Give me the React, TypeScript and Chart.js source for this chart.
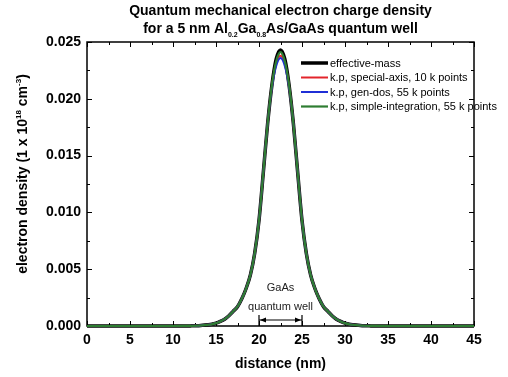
import React, { useEffect, useRef } from 'react';
import { Chart, registerables } from 'chart.js';

Chart.register(...registerables);

// ---------------- data ----------------
const distanceNm = [
  0, 5, 10, 12, 13, 14, 14.5, 15, 15.5, 16, 16.5, 17, 17.5, 18, 18.5, 19, 19.5, 20, 20.5, 21, 21.5,
  22, 22.5, 23, 23.5, 24, 24.5, 25, 25.5, 26, 26.5, 27, 27.5, 28, 28.5, 29, 29.5, 30, 30.5, 31, 32, 33,
  35, 40, 45,
];

const effectiveMass = [
  0, 0, 0, 0.00001, 0.00003, 0.0001, 0.00015, 0.00025, 0.0004, 0.0006, 0.0009, 0.0013, 0.0017, 0.0024,
  0.0033, 0.0045, 0.0064, 0.0093, 0.0135, 0.0178, 0.0212, 0.0235, 0.0243, 0.0235, 0.0212, 0.0178,
  0.0135, 0.0093, 0.0064, 0.0045, 0.0033, 0.0024, 0.0017, 0.0013, 0.0009, 0.0006, 0.0004, 0.00025,
  0.00015, 0.0001, 0.00003, 0.00001, 0, 0, 0,
];

const kpSpecialAxis = [
  0, 0, 0, 0.00001, 0.00003, 0.0001, 0.00015, 0.00025, 0.0004, 0.0006, 0.0009, 0.0013, 0.0017, 0.0024,
  0.0033, 0.0045, 0.0064, 0.0093, 0.0135, 0.0178, 0.0211, 0.0231, 0.0238, 0.0231, 0.0211, 0.0178,
  0.0135, 0.0093, 0.0064, 0.0045, 0.0033, 0.0024, 0.0017, 0.0013, 0.0009, 0.0006, 0.0004, 0.00025,
  0.00015, 0.0001, 0.00003, 0.00001, 0, 0, 0,
];

const kpGenDos = [
  0, 0, 0, 0.00001, 0.00003, 0.0001, 0.00015, 0.00025, 0.0004, 0.0006, 0.0009, 0.0013, 0.0017, 0.0024,
  0.0033, 0.0045, 0.0064, 0.0093, 0.0135, 0.0178, 0.021, 0.0229, 0.0236, 0.0229, 0.021, 0.0178,
  0.0135, 0.0093, 0.0064, 0.0045, 0.0033, 0.0024, 0.0017, 0.0013, 0.0009, 0.0006, 0.0004, 0.00025,
  0.00015, 0.0001, 0.00003, 0.00001, 0, 0, 0,
];

const kpSimpleIntegration = [
  0, 0, 0, 0.00001, 0.00003, 0.0001, 0.00015, 0.00025, 0.0004, 0.0006, 0.0009, 0.0013, 0.0017, 0.0024,
  0.0033, 0.0045, 0.0064, 0.0093, 0.0135, 0.0178, 0.0212, 0.0233, 0.0241, 0.0233, 0.0212, 0.0178,
  0.0135, 0.0093, 0.0064, 0.0045, 0.0033, 0.0024, 0.0017, 0.0013, 0.0009, 0.0006, 0.0004, 0.00025,
  0.00015, 0.0001, 0.00003, 0.00001, 0, 0, 0,
];

const seriesLabels = [
  'effective-mass',
  'k.p, special-axis, 10 k points',
  'k.p, gen-dos, 55 k points',
  'k.p, simple-integration, 55 k points',
];
const seriesColors = ['#000000', '#e3242b', '#1f2fd6', '#2e7d32'];
const seriesWidths = [3.5, 2, 2, 2.2];

const xRange = [0, 45];
const yRange = [0, 0.025];
const xStep = 5;
const yStep = 0.005;

const wellRange = [20, 25];
const wellLabel = ['GaAs', 'quantum well'];

const FONT = '"Liberation Sans", Arial, Helvetica, sans-serif';

type Part = { t: string; mode?: 'sub' | 'sup' };

function drawRich(ctx: CanvasRenderingContext2D, parts: Part[], cx: number, baseline: number, size: number, small: number) {
  const main = `bold ${size}px ${FONT}`;
  const sm = `bold ${small}px ${FONT}`;
  let total = 0;
  const widths = parts.map((p) => {
    ctx.font = p.mode ? sm : main;
    const w = ctx.measureText(p.t).width;
    total += w;
    return w;
  });
  let x = cx - total / 2;
  ctx.textAlign = 'left';
  ctx.textBaseline = 'alphabetic';
  parts.forEach((p, i) => {
    ctx.font = p.mode ? sm : main;
    const dy = p.mode === 'sub' ? 4 : p.mode === 'sup' ? -6 : 0;
    ctx.fillText(p.t, x, baseline + dy);
    x += widths[i];
  });
}

const decorPlugin = {
  id: 'decor',
  beforeDatasetsDraw(chart: any) {
    const { ctx, chartArea } = chart;
    const { left, right, top, bottom } = chartArea;
    const xs = chart.scales.x;
    const ys = chart.scales.y;
    ctx.save();
    ctx.strokeStyle = '#000';
    ctx.lineWidth = 1.5;
    ctx.strokeRect(left, top, right - left, bottom - top);
    ctx.lineWidth = 1;
    const seg = (x1: number, y1: number, x2: number, y2: number) => {
      ctx.beginPath();
      ctx.moveTo(x1, y1);
      ctx.lineTo(x2, y2);
      ctx.stroke();
    };
    for (let v = xRange[0]; v <= xRange[1] + 1e-9; v += xStep / 2) {
      const major = Math.abs(v / xStep - Math.round(v / xStep)) < 1e-6;
      const len = major ? 5 : 3;
      const px = Math.round(xs.getPixelForValue(v)) + 0.5;
      seg(px, bottom, px, bottom - len);
      seg(px, top, px, top + len);
    }
    for (let v = yRange[0]; v <= yRange[1] + 1e-12; v += yStep / 2) {
      const major = Math.abs(v / yStep - Math.round(v / yStep)) < 1e-6;
      const len = major ? 5 : 3;
      const py = Math.round(ys.getPixelForValue(v)) + 0.5;
      seg(left, py, left + len, py);
      seg(right, py, right - len, py);
    }
    ctx.restore();
  },
  afterDraw(chart: any) {
    const { ctx, chartArea } = chart;
    const { left, right, top, bottom } = chartArea;
    const xs = chart.scales.x;
    ctx.save();
    ctx.fillStyle = '#000';
    // title
    drawRich(ctx, [{ t: 'Quantum mechanical electron charge density' }], (left + right) / 2, 15, 14, 7);
    drawRich(
      ctx,
      [
        { t: 'for a 5 nm Al' },
        { t: '0.2', mode: 'sub' },
        { t: 'Ga' },
        { t: '0.8', mode: 'sub' },
        { t: 'As/GaAs quantum well' },
      ],
      (left + right) / 2,
      33,
      14,
      7
    );
    // y title
    ctx.save();
    ctx.translate(27, 174);
    ctx.rotate(-Math.PI / 2);
    drawRich(
      ctx,
      [
        { t: 'electron density (1 x 10' },
        { t: '18', mode: 'sup' },
        { t: ' cm' },
        { t: '-3', mode: 'sup' },
        { t: ')' },
      ],
      0,
      0,
      14,
      8
    );
    ctx.restore();

    // legend
    const ds = chart.data.datasets;
    ds.forEach((d: any, i: number) => {
      const y = 63 + i * 14.5;
      ctx.strokeStyle = d.borderColor;
      ctx.lineWidth = d.borderWidth;
      ctx.beginPath();
      ctx.moveTo(301, y);
      ctx.lineTo(328, y);
      ctx.stroke();
      ctx.fillStyle = '#000';
      ctx.font = `11px ${FONT}`;
      ctx.textAlign = 'left';
      ctx.textBaseline = 'middle';
      ctx.fillText(d.label, 330, y + 0.5);
    });

    // annotation
    const x1 = xs.getPixelForValue(wellRange[0]);
    const x2 = xs.getPixelForValue(wellRange[1]);
    const xm = (x1 + x2) / 2;
    ctx.fillStyle = '#222';
    ctx.font = `11px ${FONT}`;
    ctx.textAlign = 'center';
    ctx.textBaseline = 'middle';
    ctx.fillText(wellLabel[0], xm, bottom - 38);
    ctx.fillText(wellLabel[1], xm, bottom - 19);
    ctx.strokeStyle = '#000';
    ctx.fillStyle = '#000';
    ctx.lineWidth = 1.2;
    const ay = bottom - 6;
    ctx.beginPath();
    ctx.moveTo(x1, bottom - 11);
    ctx.lineTo(x1, bottom);
    ctx.moveTo(x2, bottom - 11);
    ctx.lineTo(x2, bottom);
    ctx.moveTo(x1, ay);
    ctx.lineTo(x2, ay);
    ctx.stroke();
    ctx.beginPath();
    ctx.moveTo(x1 + 1, ay);
    ctx.lineTo(x1 + 7, ay - 2.5);
    ctx.lineTo(x1 + 7, ay + 2.5);
    ctx.closePath();
    ctx.fill();
    ctx.beginPath();
    ctx.moveTo(x2 - 1, ay);
    ctx.lineTo(x2 - 7, ay - 2.5);
    ctx.lineTo(x2 - 7, ay + 2.5);
    ctx.closePath();
    ctx.fill();
    ctx.restore();
  },
};

export default function App() {
  const ref = useRef<HTMLCanvasElement | null>(null);

  useEffect(() => {
    if (!ref.current) return;
    const series = [effectiveMass, kpSpecialAxis, kpGenDos, kpSimpleIntegration];
    const datasets = series.map((vals, i) => ({
      label: seriesLabels[i],
      data: distanceNm.map((x, k) => ({ x, y: vals[k] })),
      borderColor: seriesColors[i],
      backgroundColor: seriesColors[i],
      borderWidth: seriesWidths[i],
      pointRadius: 0,
      cubicInterpolationMode: 'monotone' as const,
      fill: false,
      clip: false as any,
      order: 4 - i,
    }));
    const chart = new Chart(ref.current, {
      type: 'line',
      data: { datasets },
      options: {
        animation: false,
        responsive: false,
        devicePixelRatio: 1,
        layout: { padding: { left: 0, right: 34, top: 42, bottom: 0 } },
        plugins: { legend: { display: false }, tooltip: { enabled: false }, title: { display: false } },
        scales: {
          x: {
            type: 'linear',
            min: xRange[0],
            max: xRange[1],
            grid: { display: false, drawTicks: false },
            border: { display: false },
            ticks: {
              stepSize: xStep,
              padding: 6,
              color: '#000',
              font: { family: FONT, size: 14, weight: 'bold' },
              callback: (v: any) => String(v),
            },
            title: {
              display: true,
              text: 'distance (nm)',
              color: '#000',
              font: { family: FONT, size: 14, weight: 'bold' },
              padding: { top: 0, bottom: 4 },
            },
            afterFit: (s: any) => {
              s.height = 51;
            },
          },
          y: {
            type: 'linear',
            min: yRange[0],
            max: yRange[1],
            grid: { display: false, drawTicks: false },
            border: { display: false },
            ticks: {
              stepSize: yStep,
              padding: 6,
              color: '#000',
              font: { family: FONT, size: 14, weight: 'bold' },
              callback: (v: any) => Number(v).toFixed(3),
            },
            afterFit: (s: any) => {
              s.width = 87;
            },
          },
        },
      },
      plugins: [decorPlugin],
    });
    return () => chart.destroy();
  }, []);

  return (
    <div style={{ position: 'absolute', left: 0, top: 0, width: 508, height: 377, background: '#fff' }}>
      <canvas ref={ref} width={508} height={377} style={{ width: 508, height: 377 }} />
    </div>
  );
}
